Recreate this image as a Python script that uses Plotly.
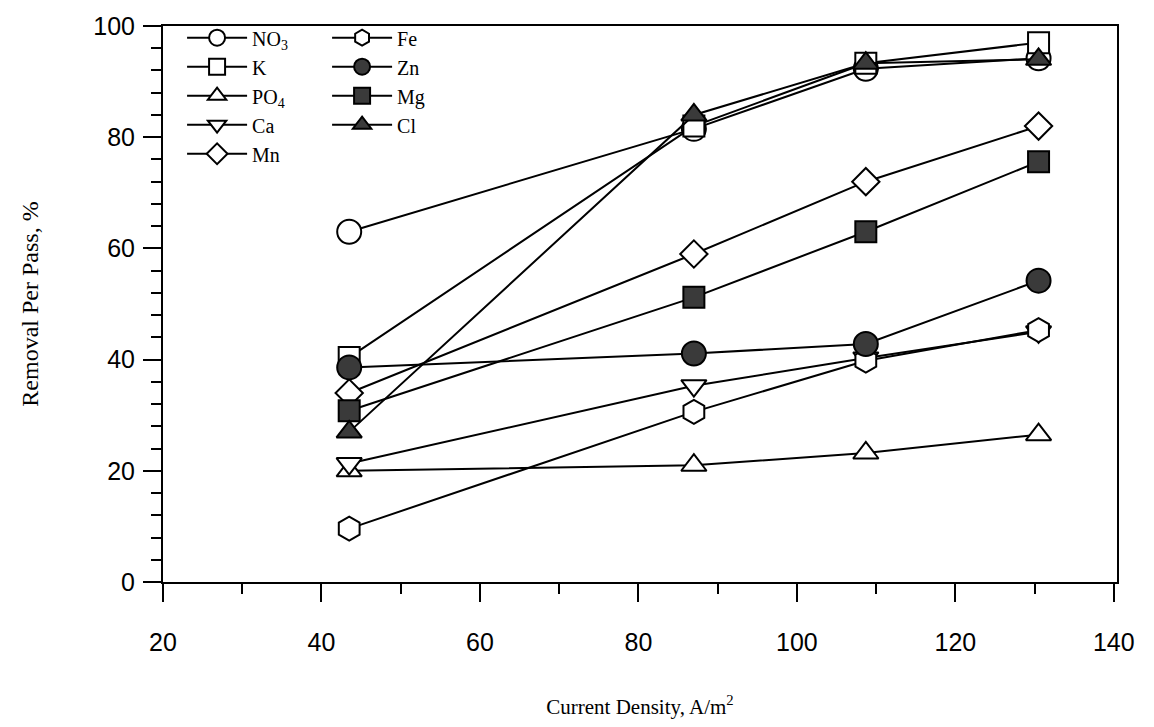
import plotly.graph_objects as go

# Data
current_density = [43.5, 87, 108.7, 130.5]

series_names = ["NO<sub>3</sub>", "K", "PO<sub>4</sub>", "Ca", "Mn", "Fe", "Zn", "Mg", "Cl"]
no3 = [63.0, 81.5, 92.3, 94.2]
k = [40.4, 82.0, 93.3, 97.0]
po4 = [20.0, 21.0, 23.2, 26.5]
ca = [21.3, 35.3, 40.3, 45.0]
mn = [34.0, 59.0, 72.0, 82.0]
fe = [9.6, 30.6, 39.8, 45.3]
zn = [38.6, 41.1, 42.8, 54.2]
mg = [30.8, 51.2, 63.0, 75.6]
cl = [27.0, 84.0, 93.3, 94.0]

series_values = [no3, k, po4, ca, mn, fe, zn, mg, cl]
symbols = ["circle", "square", "triangle-up", "triangle-down", "diamond",
           "hexagon", "circle", "square", "triangle-up"]
sizes = [24, 21, 22, 22, 21, 24, 24, 21, 22]
filled = [False, False, False, False, False, False, True, True, True]
legend_ids = ["legend", "legend", "legend", "legend", "legend",
              "legend2", "legend2", "legend2", "legend2"]

x_ticks = [20, 40, 60, 80, 100, 120, 140]
y_ticks = [0, 20, 40, 60, 80, 100]

FILL_DARK = "#3a3a3a"

fig = go.Figure()
for name, vals, sym, sz, fl, lg in zip(series_names, series_values, symbols, sizes, filled, legend_ids):
    fig.add_trace(go.Scatter(
        x=current_density, y=vals, name=name, mode="lines+markers",
        line=dict(color="black", width=2),
        marker=dict(symbol=sym, size=sz,
                    color=FILL_DARK if fl else "white",
                    line=dict(color="black", width=2)),
        legend=lg,
    ))

axis_common = dict(
    showline=True, linecolor="black", linewidth=2, mirror=True,
    ticks="outside", tickcolor="black", tickwidth=2, ticklen=18,
    showgrid=False, zeroline=False,
    tickfont=dict(family="Liberation Sans, Arial, sans-serif", size=25, color="black"),
)

fig.update_xaxes(
    range=[20, 140.4], tickvals=x_ticks, ticktext=[str(v) for v in x_ticks],
    minor=dict(ticks="outside", ticklen=10, tickwidth=2, tickcolor="black", dtick=10, tick0=20),
    ticklabelstandoff=19,
    title=dict(text="Current Density, A/m<sup>2</sup>",
               font=dict(family="Liberation Serif, Times New Roman, serif", size=21, color="black"),
               standoff=44),
    **axis_common,
)
fig.update_yaxes(
    range=[0, 100], tickvals=y_ticks, ticktext=[str(v) for v in y_ticks],
    minor=dict(ticks="outside", ticklen=10, tickwidth=2, tickcolor="black", dtick=4, tick0=0),
    ticklabelstandoff=3,
    title=dict(text="Removal Per Pass, %",
               font=dict(family="Liberation Serif, Times New Roman, serif", size=24, color="black"),
               standoff=48),
    **axis_common,
)

legend_font = dict(family="Liberation Serif, Times New Roman, serif", size=20, color="black")
fig.update_layout(
    width=1154, height=727,
    margin=dict(l=163, r=37, t=19, b=145),
    paper_bgcolor="white", plot_bgcolor="white",
    legend=dict(x=0.02, y=1.014, xanchor="left", yanchor="top",
                bgcolor="rgba(0,0,0,0)", font=legend_font, itemwidth=60,
                tracegroupgap=0),
    legend2=dict(x=0.172, y=1.014, xanchor="left", yanchor="top",
                 bgcolor="rgba(0,0,0,0)", font=legend_font, itemwidth=60,
                 tracegroupgap=0),
)

fig.write_html("out.html")
